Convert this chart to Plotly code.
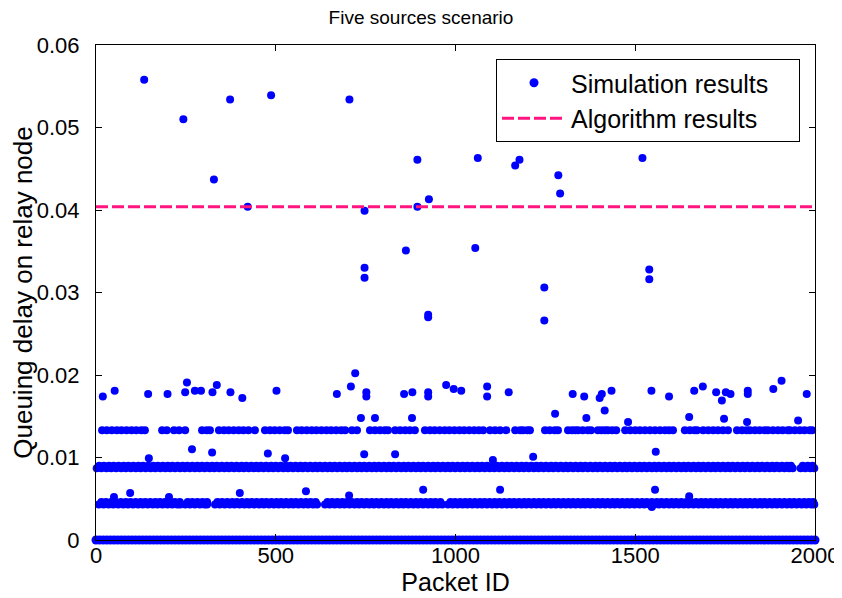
import plotly.graph_objects as go

# ---------------- text ----------------
title_text = "Five sources scenario"
x_label = "Packet ID"
y_label = "Queuing delay on relay node"
series_names = ["Simulation results", "Algorithm results"]

x_tick_vals = [0, 500, 1000, 1500, 2000]
x_tick_text = ["0", "500", "1000", "1500", "2000"]
y_tick_vals = [0, 0.01, 0.02, 0.03, 0.04, 0.05, 0.06]
y_tick_text = ["0", "0.01", "0.02", "0.03", "0.04", "0.05", "0.06"]

# ---------------- data ----------------
# algorithm result (horizontal dashed line)
algorithm_x = [0, 2000]
algorithm_delay = [0.0404, 0.0404]

# delay levels of the dense bands of simulated packets
band_levels = [0.0, 0.0043, 0.0046, 0.0087, 0.0090, 0.0133]

# packets lying on the zero band
band0_x = [0, 10, 20, 30, 40, 50, 60, 70, 80, 90, 100, 110, 120, 130, 140, 150, 160, 170,
           180, 190, 200, 210, 220, 230, 240, 250, 260, 270, 280, 290, 300, 310, 320, 330,
           340, 350, 360, 370, 380, 390, 400, 410, 420, 430, 440, 450, 460, 470, 480, 490,
           500, 510, 520, 530, 540, 550, 560, 570, 580, 590, 600, 610, 620, 630, 640, 650,
           660, 670, 680, 690, 700, 710, 720, 730, 740, 750, 760, 770, 780, 790, 800, 810,
           820, 830, 840, 850, 860, 870, 880, 890, 900, 910, 920, 930, 940, 950, 960, 970,
           980, 990, 1000, 1010, 1020, 1030, 1040, 1050, 1060, 1070, 1080, 1090, 1100,
           1110, 1120, 1130, 1140, 1150, 1160, 1170, 1180, 1190, 1200, 1210, 1220, 1230,
           1240, 1250, 1260, 1270, 1280, 1290, 1300, 1310, 1320, 1330, 1340, 1350, 1360,
           1370, 1380, 1390, 1400, 1410, 1420, 1430, 1440, 1450, 1460, 1470, 1480, 1490,
           1500, 1510, 1520, 1530, 1540, 1550, 1560, 1570, 1580, 1590, 1600, 1610, 1620,
           1630, 1640, 1650, 1660, 1670, 1680, 1690, 1700, 1710, 1720, 1730, 1740, 1750,
           1760, 1770, 1780, 1790, 1800, 1810, 1820, 1830, 1840, 1850, 1860, 1870, 1880,
           1890, 1900, 1910, 1920, 1930, 1940, 1950, 1960, 1970, 1980, 1990, 2000]

# packets on the ~0.0044 band (lower and upper edge of the band)
band1_x = [8, 21, 35, 48, 62, 76, 89, 103, 117, 130, 144, 158, 171, 185, 199, 212, 226, 234,
           248, 261, 275, 289, 302, 309,
           331, 344, 358, 372, 385, 399, 413, 426, 440, 454, 467, 481, 495, 508, 522, 536,
           549, 563, 577, 590, 604, 615,
           637, 650, 664, 678, 691, 705, 719, 732, 746, 760, 773, 787, 801, 814, 828, 842,
           855, 869, 883, 896, 910, 924, 937, 951, 963,
           979, 992, 1006, 1020, 1033, 1047, 1061, 1074, 1088, 1102, 1115, 1129, 1143, 1156,
           1170, 1184, 1197, 1211, 1225, 1238, 1252, 1266, 1279, 1293, 1307, 1320, 1334,
           1348, 1361, 1375, 1389, 1402, 1416, 1430, 1443, 1457, 1471, 1484, 1498, 1512,
           1525, 1539, 1553, 1566, 1580, 1594, 1607, 1621, 1635, 1648, 1662, 1676, 1689,
           1703, 1717, 1730, 1744, 1758, 1771, 1785, 1799, 1812, 1826, 1840, 1853, 1867,
           1881, 1894, 1908, 1922, 1935, 1949, 1963, 1976, 1990, 1998]
band1b_x = [15, 28, 42, 55, 69, 83, 96, 110, 124, 137, 151, 165, 178, 192, 206, 219, 233,
            255, 268, 282, 296, 309,
            338, 351, 365, 379, 392, 406, 420, 433, 447, 461, 474, 488, 502, 515, 529, 543,
            556, 570, 584, 597, 611,
            644, 657, 671, 685, 698, 712, 726, 739, 753, 767, 780, 794, 808, 821, 835, 849,
            862, 876, 890, 903, 917, 931, 944, 958,
            986, 999, 1013, 1027, 1040, 1054, 1068, 1081, 1095, 1109, 1122, 1136, 1150, 1163,
            1177, 1191, 1204, 1218, 1232, 1245, 1259, 1273, 1286, 1300, 1314, 1327, 1341,
            1355, 1368, 1382, 1396, 1409, 1423, 1437, 1450, 1464, 1478, 1491, 1505, 1519,
            1532, 1546, 1560, 1573, 1587, 1601, 1614, 1628, 1642, 1655, 1669, 1683, 1696,
            1710, 1724, 1737, 1751, 1765, 1778, 1792, 1806, 1819, 1833, 1847, 1860, 1874,
            1888, 1901, 1915, 1929, 1942, 1956, 1970, 1983, 1995]

# packets on the ~0.0089 band (lower and upper edge of the band)
band2_x = [2, 15, 29, 42, 56, 70, 83, 97, 111, 124, 138, 152, 165, 179, 193, 206, 220, 234,
           247, 261, 275, 288, 302, 316, 329, 343, 357, 370, 384, 398, 411, 425, 439, 452,
           466, 480, 493, 507, 521, 534, 548, 562, 575, 589, 603, 616, 630, 644, 657, 671,
           685, 698, 712, 726, 739, 753, 767, 780, 794, 808, 821, 835, 849, 862, 876, 890,
           903, 917, 931, 944, 958, 972, 985, 999, 1013, 1026, 1040, 1054, 1067, 1081, 1095,
           1108, 1122, 1136, 1149, 1163, 1177, 1190, 1204, 1218, 1231, 1245, 1259, 1272,
           1286, 1300, 1313, 1327, 1341, 1354, 1368, 1382, 1395, 1409, 1423, 1436, 1450,
           1464, 1477, 1491, 1505, 1518, 1532, 1546, 1559, 1573, 1587, 1600, 1614, 1628,
           1641, 1655, 1669, 1682, 1696, 1710, 1723, 1737, 1751, 1764, 1778, 1792, 1805,
           1819, 1833, 1846, 1860, 1874, 1887, 1901, 1915, 1928, 1938,
           1960, 1973, 1987, 1998]
band2b_x = [9, 22, 36, 49, 63, 77, 90, 104, 118, 131, 145, 159, 172, 186, 200, 213, 227, 241,
            254, 268, 282, 295, 309, 323, 336, 350, 364, 377, 391, 405, 418, 432, 446, 459,
            473, 487, 500, 514, 528, 541, 555, 569, 582, 596, 610, 623, 637, 651, 664, 678,
            692, 705, 719, 733, 746, 760, 774, 787, 801, 815, 828, 842, 856, 869, 883, 897,
            910, 924, 938, 951, 965, 979, 992, 1006, 1020, 1033, 1047, 1061, 1074, 1088,
            1102, 1115, 1129, 1143, 1156, 1170, 1184, 1197, 1211, 1225, 1238, 1252, 1266,
            1279, 1293, 1307, 1320, 1334, 1348, 1361, 1375, 1389, 1402, 1416, 1430, 1443,
            1457, 1471, 1484, 1498, 1512, 1525, 1539, 1553, 1566, 1580, 1594, 1607, 1621,
            1635, 1648, 1662, 1676, 1689, 1703, 1717, 1730, 1744, 1758, 1771, 1785, 1799,
            1812, 1826, 1840, 1853, 1867, 1881, 1894, 1908, 1922, 1933,
            1966, 1980, 1993]

# packets on the ~0.0133 band
band3_x = [17, 30, 44, 58, 71, 85, 99, 112, 126, 136,
           184, 197,
           217, 231, 248,
           295, 308, 317,
           342, 356, 369, 383, 397, 410, 424, 442,
           470, 484, 497, 511, 525, 534,
           559, 572, 586, 600, 613, 627, 641, 654, 668, 682, 693,
           712, 726,
           762, 776, 790, 803, 812,
           832, 846, 860, 873, 887,
           915, 929, 942, 956, 970, 983, 997, 1011, 1024, 1038, 1052, 1065, 1077,
           1096, 1110, 1124, 1141,
           1166, 1180,
           1188, 1200, 1207,
           1249, 1262, 1276, 1285,
           1313, 1324, 1333,
           1341, 1354, 1368, 1377,
           1396, 1406, 1416,
           1424, 1436, 1447,
           1472, 1486, 1500, 1513, 1527, 1541, 1555, 1569,
           1583, 1594, 1605,
           1638, 1652, 1665, 1672,
           1689, 1703, 1717, 1730, 1744, 1758,
           1783, 1797, 1810, 1819,
           1833, 1846, 1860, 1869,
           1883, 1897, 1910, 1924, 1930,
           1944, 1958, 1971, 1985, 1992]

# individual packets off the bands (small deviations)
scatter_x = [50, 95, 203, 400, 584, 704, 910, 1124, 1555, 1650, 1546,
             147, 267, 323, 478, 526, 746, 832, 1104, 1216, 1557,
             737, 776, 879, 1277, 1364, 1415, 1480, 1650, 1747, 1811, 1953]
scatter_y = [0.0052, 0.0057, 0.0052, 0.0057, 0.0059, 0.0054, 0.0061, 0.0061, 0.0061, 0.0053, 0.0040,
             0.0099, 0.0110, 0.0106, 0.0105, 0.0099, 0.0104, 0.0104, 0.0097, 0.0101, 0.0107,
             0.0148, 0.0148, 0.0148, 0.0153, 0.0148, 0.0157, 0.0143, 0.0149, 0.0147, 0.0143, 0.0145]

# packets around 0.016 - 0.021
mid_x = [19, 52, 145, 199, 248, 253, 275, 292, 324, 336, 374, 407, 502, 670, 709, 721,
         752, 752, 857, 880, 924, 924, 974, 995, 1016, 1088, 1088, 1148, 1326, 1358,
         1401, 1407, 1434, 1545, 1594, 1664, 1688, 1725, 1741, 1752, 1765, 1813, 1813,
         1884, 1907, 1977]
mid_y = [0.0174, 0.0181, 0.0177, 0.0177, 0.0179, 0.0191, 0.0181, 0.0181, 0.0179, 0.0188,
         0.0179, 0.0172, 0.0181, 0.0177, 0.0186, 0.0202, 0.0179, 0.0174, 0.0177, 0.0179,
         0.0179, 0.0174, 0.0188, 0.0183, 0.0181, 0.0186, 0.0174, 0.0179, 0.0177, 0.0174,
         0.0172, 0.0177, 0.0181, 0.0181, 0.0174, 0.0181, 0.0186, 0.0179, 0.0169, 0.0179,
         0.0177, 0.0181, 0.0177, 0.0183, 0.0193, 0.0177]

# large delays
high_x = [134, 243, 328, 373, 422, 487, 705, 747, 747, 747, 862, 894, 894, 924, 924, 926,
          1055, 1062, 1128, 1166, 1178, 1247, 1247, 1286, 1291, 1520, 1539, 1539]
high_y = [0.0558, 0.0510, 0.0437, 0.0534, 0.0404, 0.0539, 0.0534, 0.0399, 0.0330, 0.0318,
          0.0351, 0.0461, 0.0404, 0.0273, 0.0270, 0.0413, 0.0354, 0.0463, 0.0539, 0.0454,
          0.0461, 0.0306, 0.0266, 0.0442, 0.0420, 0.0463, 0.0328, 0.0316]

# ---------------- styles ----------------
dot_color = "#0000FF"
line_color = "#FF1480"
font_family = "Arial, Liberation Sans, sans-serif"
legend_pad = "\u2002\u2002"   # trailing blank room inside the legend box

# the page body keeps an 8 px browser margin, so the figure is 8 px smaller
page_offset = 8
fig_w, fig_h = 842 - page_offset, 598 - page_offset

fig = go.Figure()

band_xs = [band0_x, band1_x, band1b_x, band2_x, band2b_x, band3_x]
for i, (bx, level) in enumerate(zip(band_xs, band_levels)):
    fig.add_trace(go.Scatter(
        x=bx, y=[level] * len(bx), mode="markers",
        marker=dict(color=dot_color, size=9 if i == 0 else 8, line=dict(width=0)),
        name=series_names[0] + legend_pad, legendgroup="sim", showlegend=(i == 0),
        cliponaxis=False, hoverinfo="skip"))

for xs, ys in [(scatter_x, scatter_y), (mid_x, mid_y), (high_x, high_y)]:
    fig.add_trace(go.Scatter(
        x=xs, y=ys, mode="markers",
        marker=dict(color=dot_color, size=8, line=dict(width=0)),
        name=series_names[0], legendgroup="sim", showlegend=False,
        cliponaxis=False))

fig.add_trace(go.Scatter(
    x=algorithm_x, y=algorithm_delay, mode="lines",
    line=dict(color=line_color, width=3, dash="12px,4px"),
    name=series_names[1] + legend_pad))

axis_common = dict(
    showline=True, linecolor="black", linewidth=1, mirror="ticks",
    ticks="inside", ticklen=6, tickcolor="black", tickwidth=1,
    showgrid=False, zeroline=False, automargin=False,
    tickfont=dict(family=font_family, size=22, color="black"),
)

fig.update_layout(
    width=fig_w, height=fig_h, autosize=False,
    paper_bgcolor="white", plot_bgcolor="white",
    margin=dict(l=96 - page_offset, r=27, t=45 - page_offset, b=58),
    title=dict(text=title_text, x=(421 - page_offset) / fig_w, xref="container",
               xanchor="center",
               y=1 - (17 - page_offset) / fig_h, yref="container", yanchor="middle",
               font=dict(family=font_family, size=19, color="black")),
    xaxis=dict(range=[0, 2000], tickvals=x_tick_vals, ticktext=x_tick_text,
               title=dict(text=x_label, standoff=0,
                          font=dict(family=font_family, size=25, color="black")),
               ticklabelstandoff=-4, **axis_common),
    yaxis=dict(range=[0, 0.06], tickvals=y_tick_vals, ticktext=y_tick_text,
               title=dict(text=y_label, standoff=6,
                          font=dict(family=font_family, size=26, color="black")),
               ticklabelstandoff=11, **axis_common),
    legend=dict(x=(800 - 96) / 719, y=(540 - 59) / 495, xanchor="right", yanchor="top",
                bgcolor="white", bordercolor="black", borderwidth=1,
                font=dict(family=font_family, size=25, color="black"),
                tracegroupgap=0, itemwidth=64),
    showlegend=True,
)

fig.write_html("out.html")
